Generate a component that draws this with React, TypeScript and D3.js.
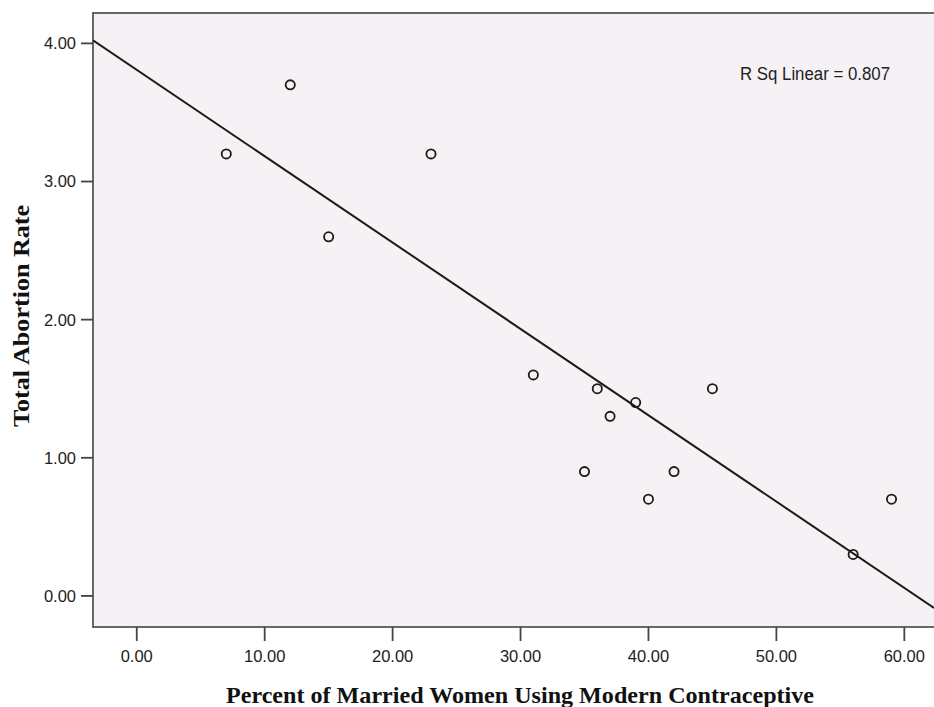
import React from "react";
import * as d3 from "d3";

const contraceptionPct = [7, 12, 15, 23, 31, 35, 36, 37, 39, 40, 42, 45, 56, 59];
const abortionRate = [3.2, 3.7, 2.6, 3.2, 1.6, 0.9, 1.5, 1.3, 1.4, 0.7, 0.9, 1.5, 0.3, 0.7];
const xTicks = [0, 10, 20, 30, 40, 50, 60];
const yTicks = [0, 1, 2, 3, 4];
const xTitle = "Percent of Married Women Using Modern Contraceptive";
const yTitle = "Total Abortion Rate";

const W = 934;
const H = 707;
const PL = 93, PR = 934, PT = 13, PB = 627;

function fit(xs: number[], ys: number[]) {
  const n = xs.length;
  const mx = d3.mean(xs)!;
  const my = d3.mean(ys)!;
  let sxy = 0, sxx = 0, syy = 0;
  for (let i = 0; i < n; i++) {
    sxy += (xs[i] - mx) * (ys[i] - my);
    sxx += (xs[i] - mx) ** 2;
    syy += (ys[i] - my) ** 2;
  }
  const slope = sxy / sxx;
  return { slope, intercept: my - slope * mx, r2: (sxy * sxy) / (sxx * syy) };
}

export default function App() {
  const x = d3.scaleLinear().domain([-3.42, 62.32]).range([PL, PR]);
  const y = d3.scaleLinear().domain([-0.225, 4.22]).range([PB, PT]);
  const { slope, intercept, r2 } = fit(contraceptionPct, abortionRate);
  const [x0, x1] = x.domain();
  const line = d3.line<number>().x((d) => x(d)).y((d) => y(intercept + slope * d));
  const fmt = d3.format(".2f");
  const axisColor = "#444";

  return (
    <svg
      width={W}
      height={H}
      style={{ position: "absolute", left: 0, top: 0, background: "#fff" }}
    >
      <defs>
        <clipPath id="plotclip">
          <rect x={PL} y={PT} width={PR - PL} height={PB - PT} />
        </clipPath>
      </defs>
      <rect x={PL} y={PT} width={PR - PL + 4} height={PB - PT} fill="#f5f1f5" stroke={axisColor} strokeWidth={1.6} />
      {yTicks.map((t) => (
        <g key={"y" + t}>
          <line x1={PL - 12} x2={PL} y1={y(t)} y2={y(t)} stroke={axisColor} strokeWidth={1.8} />
          <text
            x={76}
            y={y(t)}
            dy="0.36em"
            textAnchor="end"
            fontFamily="Liberation Sans, Arial, sans-serif"
            fontSize={16.5}
            fill="#222"
          >
            {fmt(t)}
          </text>
        </g>
      ))}
      {xTicks.map((t) => (
        <g key={"x" + t}>
          <line x1={x(t)} x2={x(t)} y1={PB} y2={PB + 14} stroke={axisColor} strokeWidth={1.8} />
          <text
            x={x(t)}
            y={661.7}
            textAnchor="middle"
            fontFamily="Liberation Sans, Arial, sans-serif"
            fontSize={16.5}
            fill="#222"
          >
            {fmt(t)}
          </text>
        </g>
      ))}
      <g clipPath="url(#plotclip)">
        <path d={line([x0, x1]) || ""} fill="none" stroke="#1a1a1a" strokeWidth={2} />
        {contraceptionPct.map((v, i) => (
          <circle
            key={i}
            cx={x(v)}
            cy={y(abortionRate[i])}
            r={4.6}
            fill="none"
            stroke="#1a1a1a"
            strokeWidth={1.8}
          />
        ))}
      </g>
      <text
        x={740}
        y={80}
        fontFamily="Liberation Sans, Arial, sans-serif"
        fontSize={18}
        textLength={150}
        lengthAdjust="spacingAndGlyphs"
        fill="#222"
      >
        {`R Sq Linear = ${r2.toFixed(3)}`}
      </text>
      <text
        x={520}
        y={702.5}
        textAnchor="middle"
        fontFamily="Liberation Serif, Times New Roman, serif"
        fontWeight="bold"
        fontSize={24}
        textLength={588}
        lengthAdjust="spacingAndGlyphs"
        fill="#111"
      >
        {xTitle}
      </text>
      <text
        transform={`translate(28.5, 316) rotate(-90)`}
        textAnchor="middle"
        fontFamily="Liberation Serif, Times New Roman, serif"
        fontWeight="bold"
        fontSize={24}
        textLength={222}
        lengthAdjust="spacingAndGlyphs"
        fill="#111"
      >
        {yTitle}
      </text>
    </svg>
  );
}
